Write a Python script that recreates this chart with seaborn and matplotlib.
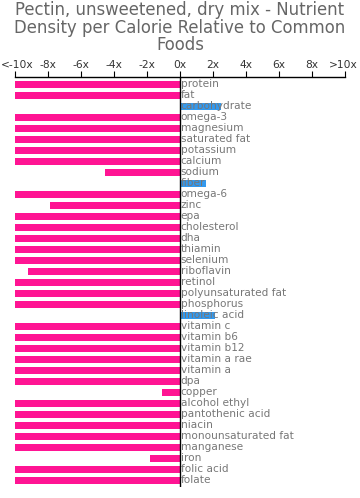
import numpy as np
import pandas as pd
import matplotlib
matplotlib.use("Agg")
import matplotlib.pyplot as plt
import matplotlib.transforms as mtransforms
import seaborn as sns

# nutrient density relative to common foods (clipped to +/-10x)
nutrients = [
    "protein", "fat", "carbohydrate", "omega-3", "magnesium", "saturated fat",
    "potassium", "calcium", "sodium", "fiber", "omega-6", "zinc", "epa",
    "cholesterol", "dha", "thiamin", "selenium", "riboflavin", "retinol",
    "polyunsaturated fat", "phosphorus", "linoleic acid", "vitamin c",
    "vitamin b6", "vitamin b12", "vitamin a rae", "vitamin a", "dpa", "copper",
    "alcohol ethyl", "pantothenic acid", "niacin", "monounsaturated fat",
    "manganese", "iron", "folic acid", "folate",
]
values = [
    -10, -10, 2.5, -10, -10, -10,
    -10, -10, -4.55, 1.6, -10, -7.85, -10,
    -10, -10, -10, -10, -9.2, -10,
    -10, -10, 2.15, -10,
    -10, -10, -10, -10, -10, -1.1,
    -10, -10, -10, -10,
    -10, -1.8, -10, -10,
]
tick_vals = [-10, -8, -6, -4, -2, 0, 2, 4, 6, 8, 10]
tick_labels = ["<-10x", "-8x", "-6x", "-4x", "-2x", "0x", "2x", "4x", "6x", "8x", ">10x"]

df = pd.DataFrame({"nutrient": nutrients, "value": values})
df["sign"] = np.where(df["value"] < 0, "neg", "pos")

fig = plt.figure(figsize=(3.6, 4.98), dpi=100)
ax = fig.add_axes([15 / 360, 1 - 487 / 498, 330 / 360, 410 / 498])

sns.barplot(data=df, x="value", y="nutrient", hue="sign", orient="h",
            palette={"neg": "#FF1493", "pos": "#3399EE"}, width=0.62,
            dodge=False, legend=False, ax=ax, saturation=1)

# row layout in pixels: first bar centre and spacing
row = 11.0
first = 84.3
ax.set_ylim((487 - first) / row, -(first - 77) / row)
ax.set_xlim(-10, 10)

for i, name in enumerate(nutrients):
    ax.text(0.05, i, name, va="center", ha="left", fontsize=7.6, color="#777777")

ax.axvline(0, color="black", lw=1.0)
ax.xaxis.tick_top()
ax.set_xticks(tick_vals)
ax.set_xticklabels(tick_labels, fontsize=7.7, color="#333333")
ax.tick_params(axis="x", length=4, width=0.8, pad=1, color="black")
# nudge the edge labels inward so they are not clipped
shift = mtransforms.ScaledTranslation(2 / 100, 0, fig.dpi_scale_trans)
lbls = ax.get_xticklabels()
lbls[0].set_transform(lbls[0].get_transform() + shift)
lbls[-1].set_transform(lbls[-1].get_transform() - shift)
ax.set_yticks([])
ax.set_xlabel("")
ax.set_ylabel("")
for s in ["left", "right", "bottom"]:
    ax.spines[s].set_visible(False)
ax.spines["top"].set_linewidth(1.0)

fig.text(0.5, 0.997, "Pectin, unsweetened, dry mix - Nutrient\nDensity per Calorie Relative to Common\nFoods",
         ha="center", va="top", fontsize=11.9, color="#666666", linespacing=0.93)

fig.savefig("out.png", dpi=100)
